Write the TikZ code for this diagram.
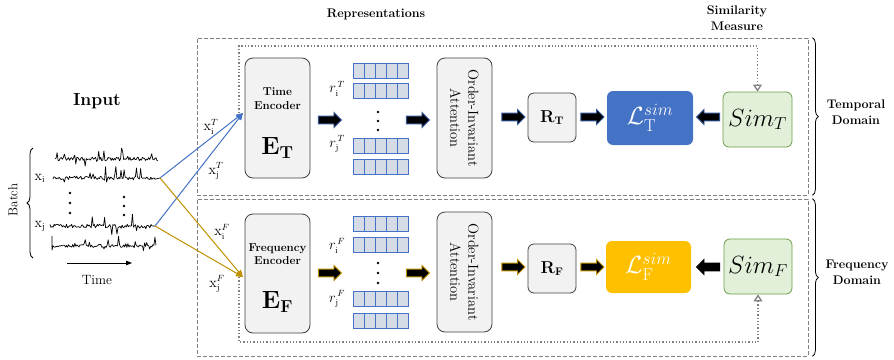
\documentclass[tikz,border=0pt]{standalone}
\usepackage{amsmath,amssymb}
\usetikzlibrary{shapes.arrows,arrows.meta,decorations.pathreplacing,calc}
\definecolor{tblue}{HTML}{4472C4}
\definecolor{tdark}{HTML}{2F5597}
\definecolor{gline}{HTML}{BF9000}
\definecolor{gfill}{HTML}{FFC000}
\definecolor{cellfill}{HTML}{D6DCE5}
\definecolor{boxfill}{HTML}{F2F2F2}
\definecolor{boxdraw}{HTML}{404040}
\definecolor{simfill}{HTML}{E2F0D9}
\definecolor{simdraw}{HTML}{6A9F4A}
\definecolor{dgray}{HTML}{808080}
\begin{document}
\begin{tikzpicture}[x=1pt,y=-1pt,
  dashbox/.style={draw=dgray,dash pattern=on 4pt off 2pt,line width=0.8pt,inner sep=0pt},
  graybox/.style={draw=boxdraw,fill=boxfill,line width=0.8pt,rounded corners=8pt,inner sep=0pt},
  smallbox/.style={draw=boxdraw,fill=boxfill,line width=0.8pt,rounded corners=6pt,inner sep=0pt},
  lossbox/.style={rounded corners=6pt,inner sep=0pt},
  simbox/.style={draw=simdraw,fill=simfill,line width=0.8pt,rounded corners=6pt,inner sep=0pt},
  vecrow/.style={draw=tblue,fill=cellfill,line width=0.8pt,minimum width=55pt,minimum height=15pt,inner sep=0pt,
    path picture={\foreach \k in {1,...,4} \draw[tblue,line width=0.8pt] ([xshift=\k*11pt]path picture bounding box.south west) -- ([xshift=\k*11pt]path picture bounding box.north west);}},
  blockarrow/.style={single arrow,fill=black,draw=#1,line width=0.9pt,minimum height=23pt,
    single arrow head extend=3.6pt,inner xsep=0pt,inner ysep=3.4pt},
  sigline/.style={line width=0.7pt,line join=round},
  tline/.style={tblue,line width=1pt,-{Triangle[length=7pt,width=6pt]}},
  fline/.style={gline,line width=1pt,-{Triangle[length=7pt,width=6pt]}},
  dotarrow/.style={dgray,line width=1.3pt,dotted,-{Triangle[open,length=7pt,width=9pt]}},
  bracestyle/.style={decorate,decoration={brace,amplitude=6pt},line width=0.8pt},
  lbl/.style={inner sep=0pt,font=\fontsize{13.5}{15}\selectfont},
  btitle/.style={inner sep=0pt,align=center,font=\fontsize{12.5}{16}\selectfont\bfseries},
  dot/.style={circle,fill=black,inner sep=0pt,minimum size=2.8pt}
]
\useasboundingbox (0,0) rectangle (894,359);

% domain boxes
\node[dashbox,minimum width=611pt,minimum height=157pt] (tdom) at (502.5,116.5) {};
\node[dashbox,minimum width=611pt,minimum height=157pt] (fdom) at (502.5,277.5) {};
\draw[bracestyle] (tdom.north east) ++(4,0) coordinate (tb1) -- ($(tdom.south east)+(4,0)$) coordinate (tb2);
\draw[bracestyle] (fdom.north east) ++(4,0) coordinate (fb1) -- ($(fdom.south east)+(4,0)$) coordinate (fb2);
\node[btitle] (tdl) at (856,112.5) {Temporal\\Domain};
\node[btitle] (fdl) at (857,272.5) {Frequency\\Domain};

\node[btitle] (rep) at (376,14) {Representations};
\node[btitle] (simm) at (737,18) {Similarity\\Measure};

% input
\node[inner sep=0pt,font=\fontsize{17.5}{19}\selectfont\bfseries] (inp) at (97,101) {Input};
\pgfmathsetseed{11}
\coordinate (xiend) at (160,178);
\coordinate (xjend) at (155,226);
\draw[sigline] plot[domain=55:158,samples=100] (\x,{159+1.8*rand-70*max(rand-0.8,0)+32*max(-rand-0.82,0)});
\draw[sigline] plot[domain=53:155,samples=100] (\x,{178+1.8*rand-70*max(rand-0.8,0)+32*max(-rand-0.82,0)}) -- (xiend);
\draw[sigline] plot[domain=50:152,samples=100] (\x,{226+1.8*rand-65*max(rand-0.8,0)+40*max(-rand-0.8,0)}) -- (xjend);
\draw[sigline] (52,236) -- (52,250) -- plot[domain=53:156,samples=100] (\x,{246+1.5*rand-65*max(rand-0.8,0)+24*max(-rand-0.85,0)});
\foreach \yy in {193,203,213} \node[dot] at (70,\yy) {};
\foreach \yy in {197,206,215} \node[dot] at (124,\yy) {};
\draw[bracestyle] (33,258) coordinate (bb1) -- (33,148) coordinate (bb2);
\node[inner sep=0pt,rotate=90,font=\fontsize{13}{15}\selectfont] (batch) at (13,200) {Batch};
\node[lbl] (xil) at (40,178) {$\mathrm{x}_{\mathrm{i}}$};
\node[lbl] (xjl) at (40,226) {$\mathrm{x}_{\mathrm{j}}$};
\coordinate (ta1) at (67,263);
\coordinate (ta2) at (132,263);
\draw[line width=0.8pt,-{Triangle[length=6pt,width=4.5pt]}] (ta1) -- (ta2);
\node[inner sep=0pt,font=\fontsize{13.5}{15}\selectfont] (timel) at (97,280) {Time};

% encoders
\node[graybox,minimum width=65pt,minimum height=120pt] (enct) at (277.5,118) {};
\node[btitle,font=\fontsize{11.5}{13.5}\selectfont\bfseries] (enctl) at (277.5,98.5) {Time\\Encoder};
\node[inner sep=0pt,font=\fontsize{24}{26}\selectfont] (et) at (277.5,148) {$\mathbf{E}_{\mathbf{T}}$};
\node[graybox,minimum width=65pt,minimum height=119pt] (encf) at (277.5,273.5) {};
\node[btitle,font=\fontsize{11.5}{13.5}\selectfont\bfseries] (encfl) at (277.5,254) {Frequency\\Encoder};
\node[inner sep=0pt,font=\fontsize{24}{26}\selectfont] (ef) at (277.5,302) {$\mathbf{E}_{\mathbf{F}}$};

% input lines
\coordinate (tin) at (243,113);
\coordinate (fin) at (243,277);
\draw[tline] (xiend) -- (tin);
\draw[tline] (xjend) -- (tin);
\draw[fline] (xiend) -- (fin);
\draw[fline] (xjend) -- (fin);
\node[lbl] (xit) at (211,127) {$\mathrm{x}_{\mathrm{i}}^{T}$};
\node[lbl] (xjt) at (216,171) {$\mathrm{x}_{\mathrm{j}}^{T}$};
\node[lbl] (xif) at (222,232) {$\mathrm{x}_{\mathrm{i}}^{F}$};
\node[lbl] (xjf) at (217,284) {$\mathrm{x}_{\mathrm{j}}^{F}$};

% dotted feedback
\coordinate (td0) at (239,113);
\coordinate (td1) at (239,46);
\coordinate (fd0) at (239,277);
\coordinate (fd1) at (239,342);

% vectors
\node[vecrow] (vt1) at (380.5,70.5) {};
\node[vecrow] (vt2) at (380.5,90.5) {};
\node[vecrow] (vt3) at (380.5,145.5) {};
\node[vecrow] (vt4) at (380.5,166.5) {};
\node[vecrow] (vf1) at (380.5,223.5) {};
\node[vecrow] (vf2) at (380.5,244.5) {};
\node[vecrow] (vf3) at (380.5,299) {};
\node[vecrow] (vf4) at (380.5,320.5) {};
\node[lbl] (rit) at (337,89) {$r_{\mathrm{i}}^{\,T}$};
\node[lbl] (rjt) at (337,144) {$r_{\mathrm{j}}^{\,T}$};
\node[lbl] (rif) at (337,246) {$r_{\mathrm{i}}^{\,F}$};
\node[lbl] (rjf) at (337,299) {$r_{\mathrm{j}}^{\,F}$};
\foreach \yy in {112,121,130} \node[dot,minimum size=2.6pt] at (378,\yy) {};
\foreach \yy in {263,273,283} \node[dot,minimum size=2.6pt] at (378,\yy) {};

% attention
\node[graybox,minimum width=55pt,minimum height=120pt] (attt) at (464.5,118) {};
\node[inner sep=0pt,rotate=-90,align=center,font=\fontsize{14.5}{18}\selectfont] (atttl) at (464.5,118) {Order-Invariant\\Attention};
\node[graybox,minimum width=55pt,minimum height=120pt] (attf) at (464.5,272) {};
\node[inner sep=0pt,rotate=-90,align=center,font=\fontsize{14.5}{18}\selectfont] (attfl) at (464.5,272) {Order-Invariant\\Attention};

% R, L, Sim
\node[smallbox,minimum width=48pt,minimum height=49pt,font=\fontsize{16}{18}\selectfont] (rt) at (552,117.5) {$\mathbf{R}_{\mathbf{T}}$};
\node[smallbox,minimum width=48pt,minimum height=49pt,font=\fontsize{16}{18}\selectfont] (rf) at (552,268.5) {$\mathbf{R}_{\mathbf{F}}$};
\node[lossbox,fill=tblue,minimum width=86pt,minimum height=54pt,text=white,font=\fontsize{26}{28}\selectfont] (lt) at (650,118) {$\mathcal{L}_{\mathrm{T}}^{sim}$};
\node[lossbox,fill=gfill,minimum width=85pt,minimum height=52pt,text=white,font=\fontsize{26}{28}\selectfont] (lf) at (648.5,267) {$\mathcal{L}_{\mathrm{F}}^{sim}$};
\node[simbox,minimum width=69pt,minimum height=55pt,font=\fontsize{24}{26}\selectfont] (simt) at (757.5,119.5) {$Sim_T$};
\node[simbox,minimum width=68pt,minimum height=55pt,font=\fontsize{24}{26}\selectfont] (simf) at (758,266.5) {$Sim_F$};

\draw[dotarrow] (td0) -- (td1) -| (simt.north);
\draw[dotarrow] (fd0) -- (fd1) -| (simf.south);

% block arrows
\node[blockarrow=tdark] (a1) at (328,120) {};
\node[blockarrow=tdark] (a2) at (416,120) {};
\node[blockarrow=tdark] (a3) at (511.5,117) {};
\node[blockarrow=tdark] (a4) at (590.5,117) {};
\node[blockarrow=tdark,shape border rotate=180] (a5) at (710,117) {};
\node[blockarrow=gline] (b1) at (328,273) {};
\node[blockarrow=gline] (b2) at (416,273) {};
\node[blockarrow=gline] (b3) at (511.5,267) {};
\node[blockarrow=gline] (b4) at (590.5,267) {};
\node[blockarrow=black,shape border rotate=180] (b5) at (710,267) {};
\end{tikzpicture}
\end{document}
